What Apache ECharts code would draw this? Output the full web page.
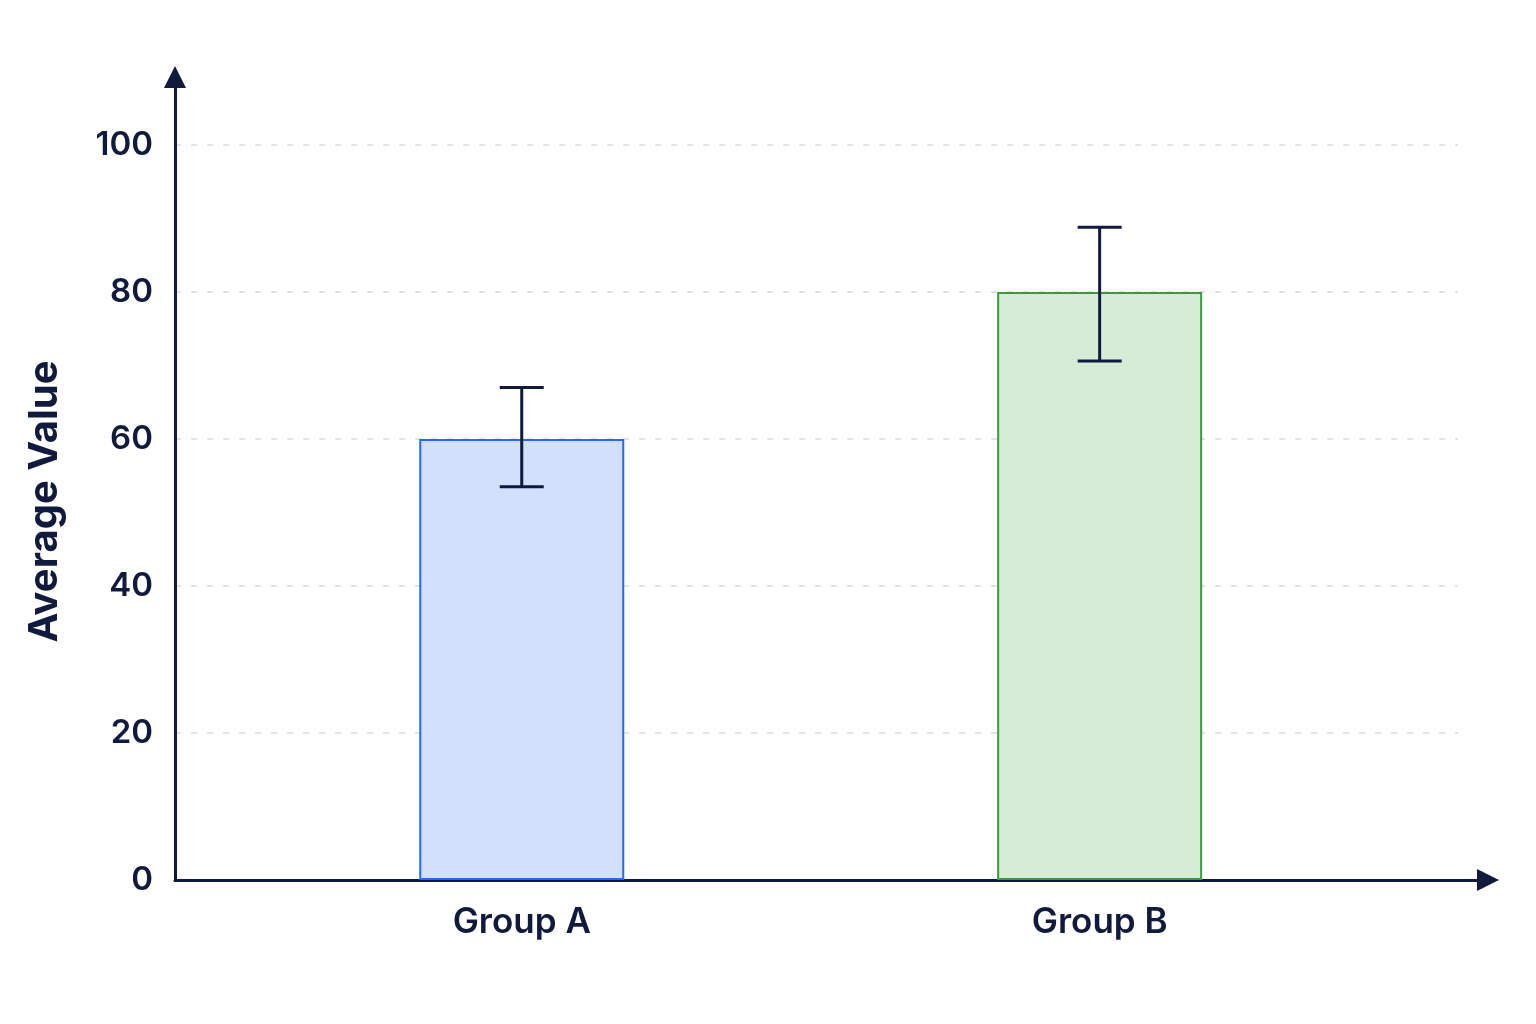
<!DOCTYPE html>
<html>
<head>
<meta charset="utf-8">
<script src="https://cdn.jsdelivr.net/npm/echarts@6/dist/echarts.min.js"></script>
<style>
html,body{margin:0;padding:0;background:#ffffff;}
#chart{width:1536px;height:1024px;}
</style>
</head>
<body>
<div id="chart"></div>
<script>
// ---- data ----
const groups = ['Group A', 'Group B'];
const means = [60, 80];
const errLow = [53.5, 70.6];
const errHigh = [67, 88.8];
const yTickStep = 20;

// ---- layout (not data) ----
const xPos = [3, 8];
const fillColors = ['#d3e0fb', '#d7ecd6'];
const borderColors = ['#1f6cf5', '#3a9a3c'];
const ink = '#0f1a3d';
const font = 'Inter, "Noto Sans", sans-serif';
const yMax = 109.25;
const xMax = 11.36;

const chart = echarts.init(document.getElementById('chart'));

const barData = means.map((m, i) => ({
  value: [xPos[i], m],
  itemStyle: { color: fillColors[i], borderColor: borderColors[i], borderWidth: 2 }
}));
const errData = groups.map((g, i) => [xPos[i], errLow[i], errHigh[i]]);

const option = {
  backgroundColor: '#ffffff',
  animation: false,
  grid: [
    { left: 175, right: 48, top: 77, bottom: 144, containLabel: false },
    { left: 175, right: 78, top: 77, bottom: 144, containLabel: false }
  ],
  xAxis: [
    {
      type: 'value', gridIndex: 0, min: 0, max: xMax, interval: 1,
      axisLine: { show: true, lineStyle: { color: ink, width: 3 }, symbol: ['none', 'triangle'], symbolSize: [22, 22] },
      axisTick: { show: false },
      splitLine: { show: false },
      axisLabel: {
        show: true, margin: 25, color: ink, fontFamily: font, fontSize: 35, fontWeight: 600,
        showMinLabel: true, showMaxLabel: true,
        formatter: v => { const i = xPos.findIndex(p => Math.abs(p - v) < 1e-6); return i >= 0 ? groups[i] : ''; }
      }
    },
    {
      type: 'value', gridIndex: 1, min: 0, max: xMax, show: false
    }
  ],
  yAxis: [
    {
      type: 'value', gridIndex: 0, min: 0, max: yMax, interval: yTickStep,
      name: 'Average Value', nameLocation: 'middle', nameGap: 110,
      nameTextStyle: { color: ink, fontFamily: font, fontSize: 40, fontWeight: 700, padding: [0, 46, 0, 0] },
      axisLine: { show: true, lineStyle: { color: ink, width: 3 }, symbol: ['none', 'triangle'], symbolSize: [22, 22] },
      axisTick: { show: false },
      splitLine: { show: false },
      axisLabel: { color: ink, fontFamily: font, fontSize: 33, fontWeight: 600, margin: 22, showMaxLabel: false }
    },
    {
      type: 'value', gridIndex: 1, min: 0, max: yMax, interval: yTickStep,
      axisLine: { show: false }, axisTick: { show: false }, axisLabel: { show: false },
      splitLine: { show: true, showMinLine: false, showMaxLine: false, lineStyle: { color: '#d8d9e0', width: 1.5, type: [6, 10] } }
    }
  ],
  series: [
    {
      type: 'bar', xAxisIndex: 0, yAxisIndex: 0, barWidth: 205, z: 3,
      data: barData
    },
    {
      type: 'custom', xAxisIndex: 0, yAxisIndex: 0, z: 5,
      data: errData,
      renderItem: function (params, api) {
        const x = api.value(0);
        const lo = api.coord([x, api.value(1)]);
        const hi = api.coord([x, api.value(2)]);
        const half = 22;
        const style = { stroke: ink, lineWidth: 3, fill: null };
        return {
          type: 'group',
          children: [
            { type: 'line', shape: { x1: lo[0], y1: lo[1], x2: hi[0], y2: hi[1] }, style: style },
            { type: 'line', shape: { x1: hi[0] - half, y1: hi[1], x2: hi[0] + half, y2: hi[1] }, style: style },
            { type: 'line', shape: { x1: lo[0] - half, y1: lo[1], x2: lo[0] + half, y2: lo[1] }, style: style }
          ]
        };
      }
    }
  ]
};
chart.setOption(option);
</script>
</body>
</html>
